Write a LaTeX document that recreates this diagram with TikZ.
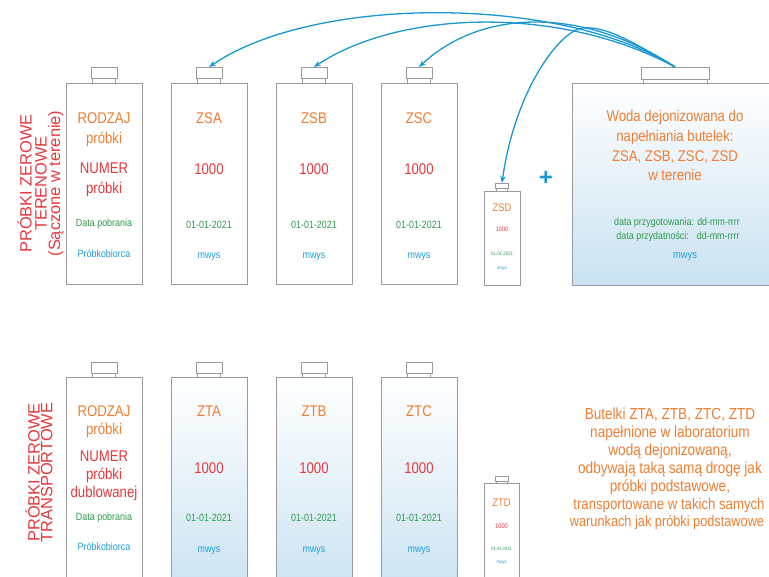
\documentclass[tikz,border=0pt]{standalone}
\usepackage{fontspec}
\setmainfont{Liberation Sans}[FakeStretch=0.85]
\newfontfamily\sidefont{Liberation Sans}
\usetikzlibrary{arrows.meta}
\definecolor{corange}{HTML}{EE7E33}
\definecolor{cred}{HTML}{E5383B}
\definecolor{cgreen}{HTML}{2E9A4C}
\definecolor{cblue}{HTML}{1E9ED9}
\definecolor{carrow}{HTML}{1A97D3}
\definecolor{cgrey}{HTML}{9A9A9A}
\definecolor{cfill}{HTML}{C9E2F1}
\begin{document}
\begin{tikzpicture}[x=1pt,y=-1pt,
  bottle/.style={draw=cgrey, line width=0.9pt, fill=white, inner sep=0pt, outer sep=0pt},
  tinted/.style={bottle, top color=white, bottom color=cfill},
  lbl/.style={anchor=base, inner sep=0pt, outer sep=0pt},
  big/.style={lbl, font=\fontsize{15.5}{18}\selectfont},
  small/.style={lbl, font=\fontsize{10.5}{12}\selectfont},
  side/.style={lbl, rotate=90, text=cred, font=\sidefont\fontsize{16.4}{18}\selectfont},
  arr/.style={draw=carrow, line width=1.3pt, -{Stealth[length=7pt,width=5.5pt]}},
]
\useasboundingbox (0,0) rectangle (769,577);
\clip (0,0) rectangle (769,577);

% ---------- top row bottles ----------
\foreach \n/\x in {1/104,A/209,B/314,C/419}{
  \node[bottle, minimum width=76pt, minimum height=201pt] (bt\n) at (\x,183.5) {};
  \node[bottle, minimum width=23pt, minimum height=5pt] (nk\n) at (\x,80.5) {};
  \node[bottle, minimum width=26pt, minimum height=11pt] (cap\n) at (\x,72.5) {};
}
% small ZSD bottle
\node[bottle, minimum width=36pt, minimum height=94pt] (btD) at (502,238) {};
\node[bottle, minimum width=11pt, minimum height=3pt] (nkD) at (502,189.5) {};
\node[bottle, minimum width=13pt, minimum height=5pt] (capD) at (502,185.5) {};
% big water box
\node[tinted, minimum width=208pt, minimum height=202pt] (box) at (676,184) {};
\node[bottle, minimum width=64pt, minimum height=4pt] (nkW) at (675,81) {};
\node[bottle, minimum width=68pt, minimum height=12pt] (capW) at (675,73) {};

% ---------- bottom row bottles ----------
\node[bottle, minimum width=76pt, minimum height=223pt] (bt2) at (104,488.5) {};
\node[bottle, minimum width=23pt, minimum height=4pt] (nk2) at (104,375) {};
\node[bottle, minimum width=26pt, minimum height=11pt] (cap2) at (104,367.5) {};
\foreach \n/\x in {TA/209,TB/314,TC/419}{
  \node[tinted, minimum width=76pt, minimum height=223pt] (bt\n) at (\x,488.5) {};
  \node[bottle, minimum width=23pt, minimum height=4pt] (nk\n) at (\x,375) {};
  \node[bottle, minimum width=26pt, minimum height=11pt] (cap\n) at (\x,367.5) {};
}
\node[bottle, minimum width=35pt, minimum height=117pt] (btTD) at (501.5,541.5) {};
\node[bottle, minimum width=11pt, minimum height=2pt] (nkTD) at (502,482) {};
\node[bottle, minimum width=13pt, minimum height=5pt] (capTD) at (502,479.3) {};

% ---------- side labels ----------
\node[side] (s1) at (31.5,183.5) {PRÓBKI ZEROWE};
\node[side] (s2) at (46.5,183.5) {TERENOWE};
\node[side] (s3) at (60,183.5) {(Sączone w terenie)};
\node[side] (s4) at (39.5,472.5) {PRÓBKI ZEROWE};
\node[side] (s5) at (52.3,472.5) {TRANSPORTOWE};

% ---------- top row texts ----------
\node[big, text=corange] (t1a) at (104,124) {RODZAJ};
\node[big, text=corange] (t1b) at (104,143.3) {próbki};
\node[big, text=cred] (t1c) at (104,174) {NUMER};
\node[big, text=cred] (t1d) at (104,193.3) {próbki};
\node[small, text=cgreen] (t1e) at (104,226.7) {Data pobrania};
\node[small, text=cblue] (t1f) at (104,258) {Próbkobiorca};
\foreach \n/\x in {A/209,B/314,C/419}{
  \node[big, text=corange] (nm\n) at (\x,123.3) {ZS\n};
  \node[big, text=cred] (nr\n) at (\x,175) {1000};
  \node[small, text=cgreen] (dt\n) at (\x,228.3) {01-01-2021};
  \node[small, text=cblue] (mw\n) at (\x,258.3) {mwys};
}
\node[lbl, text=corange, font=\fontsize{11}{12}\selectfont] (nmD) at (502,211.7) {ZSD};
\node[lbl, text=cred, font=\fontsize{6.5}{7}\selectfont] (nrD) at (502,231.7) {1000};
\node[lbl, text=cgreen, font=\fontsize{5}{6}\selectfont] (dtD) at (502,256) {01-01-2021};
\node[lbl, text=cblue, font=\fontsize{4.6}{5}\selectfont] (mwD) at (502,269.3) {mwys};

\node[lbl, text=carrow, font=\sidefont\bfseries\fontsize{24}{24}\selectfont] (plus) at (546,185.5) {+};

\node[big, text=corange] (w1) at (675,121.7) {Woda dejonizowana do};
\node[big, text=corange] (w2) at (675,141.7) {napełniania butelek:};
\node[big, text=corange] (w3) at (675,161.7) {ZSA, ZSB, ZSC, ZSD};
\node[big, text=corange] (w4) at (675,180.7) {w terenie};
\node[small, text=cgreen] (w5) at (677,226) {data przygotowania: dd-mm-rrrr};
\node[small, text=cgreen] (w6) at (678,239.3) {data przydatności:\hspace{8pt}dd-mm-rrrr};
\node[lbl, text=cblue, font=\fontsize{11}{12}\selectfont] (w7) at (685,258.3) {mwys};

% ---------- bottom row texts ----------
\node[big, text=corange] (u1a) at (104,416.7) {RODZAJ};
\node[big, text=corange] (u1b) at (104,435) {próbki};
\node[big, text=cred] (u1c) at (104,461.7) {NUMER};
\node[big, text=cred] (u1d) at (104,479.3) {próbki};
\node[big, text=cred] (u1e) at (104,497.3) {dublowanej};
\node[small, text=cgreen] (u1f) at (104,520) {Data pobrania};
\node[small, text=cblue] (u1g) at (104,550.7) {Próbkobiorca};
\foreach \n/\x in {A/209,B/314,C/419}{
  \node[big, text=corange] (unm\n) at (\x,416.7) {ZT\n};
  \node[big, text=cred] (unr\n) at (\x,473.3) {1000};
  \node[small, text=cgreen] (udt\n) at (\x,521.7) {01-01-2021};
  \node[small, text=cblue] (umw\n) at (\x,552) {mwys};
}
\node[lbl, text=corange, font=\fontsize{11}{12}\selectfont] (unmD) at (501.5,506) {ZTD};
\node[lbl, text=cred, font=\fontsize{6.7}{7}\selectfont] (unrD) at (501.5,528.3) {1000};
\node[lbl, text=cgreen, font=\fontsize{4.7}{6}\selectfont] (udtD) at (501.5,550.7) {01-01-2021};
\node[lbl, text=cblue, font=\fontsize{4.6}{5}\selectfont] (umwD) at (501.5,563) {mwys};

\begin{scope}[every node/.style={lbl, text=corange, font=\fontsize{16}{18}\selectfont}]
\node (r1) at (670,420) {Butelki ZTA, ZTB, ZTC, ZTD};
\node (r2) at (670,437.8) {napełnione w laboratorium};
\node (r3) at (670,455.6) {wodą dejonizowaną,};
\node (r4) at (670,473.4) {odbywają taką samą drogę jak};
\node (r5) at (670,491.2) {próbki podstawowe,};
\node[font=\fontsize{15.5}{18}\selectfont] (r6) at (669,509) {transportowane w takich samych};
\node[font=\fontsize{15}{18}\selectfont] (r7) at (667,526.8) {warunkach jak próbki podstawowe};
\end{scope}

% ---------- arrows ----------
\draw[arr] (capW.north) .. controls (560,-5) and (315,-5) .. (capA.north);
\draw[arr] (capW.north) .. controls (560,5) and (400,10) .. (capB.north);
\draw[arr] (capW.north) .. controls (580,5) and (480,10) .. (capC.north);
\draw[arr] (capW.north) .. controls (630,40) and (605,26) .. (583,28)
                         .. controls (560,30) and (515,90) .. (capD.north);
\end{tikzpicture}
\end{document}
